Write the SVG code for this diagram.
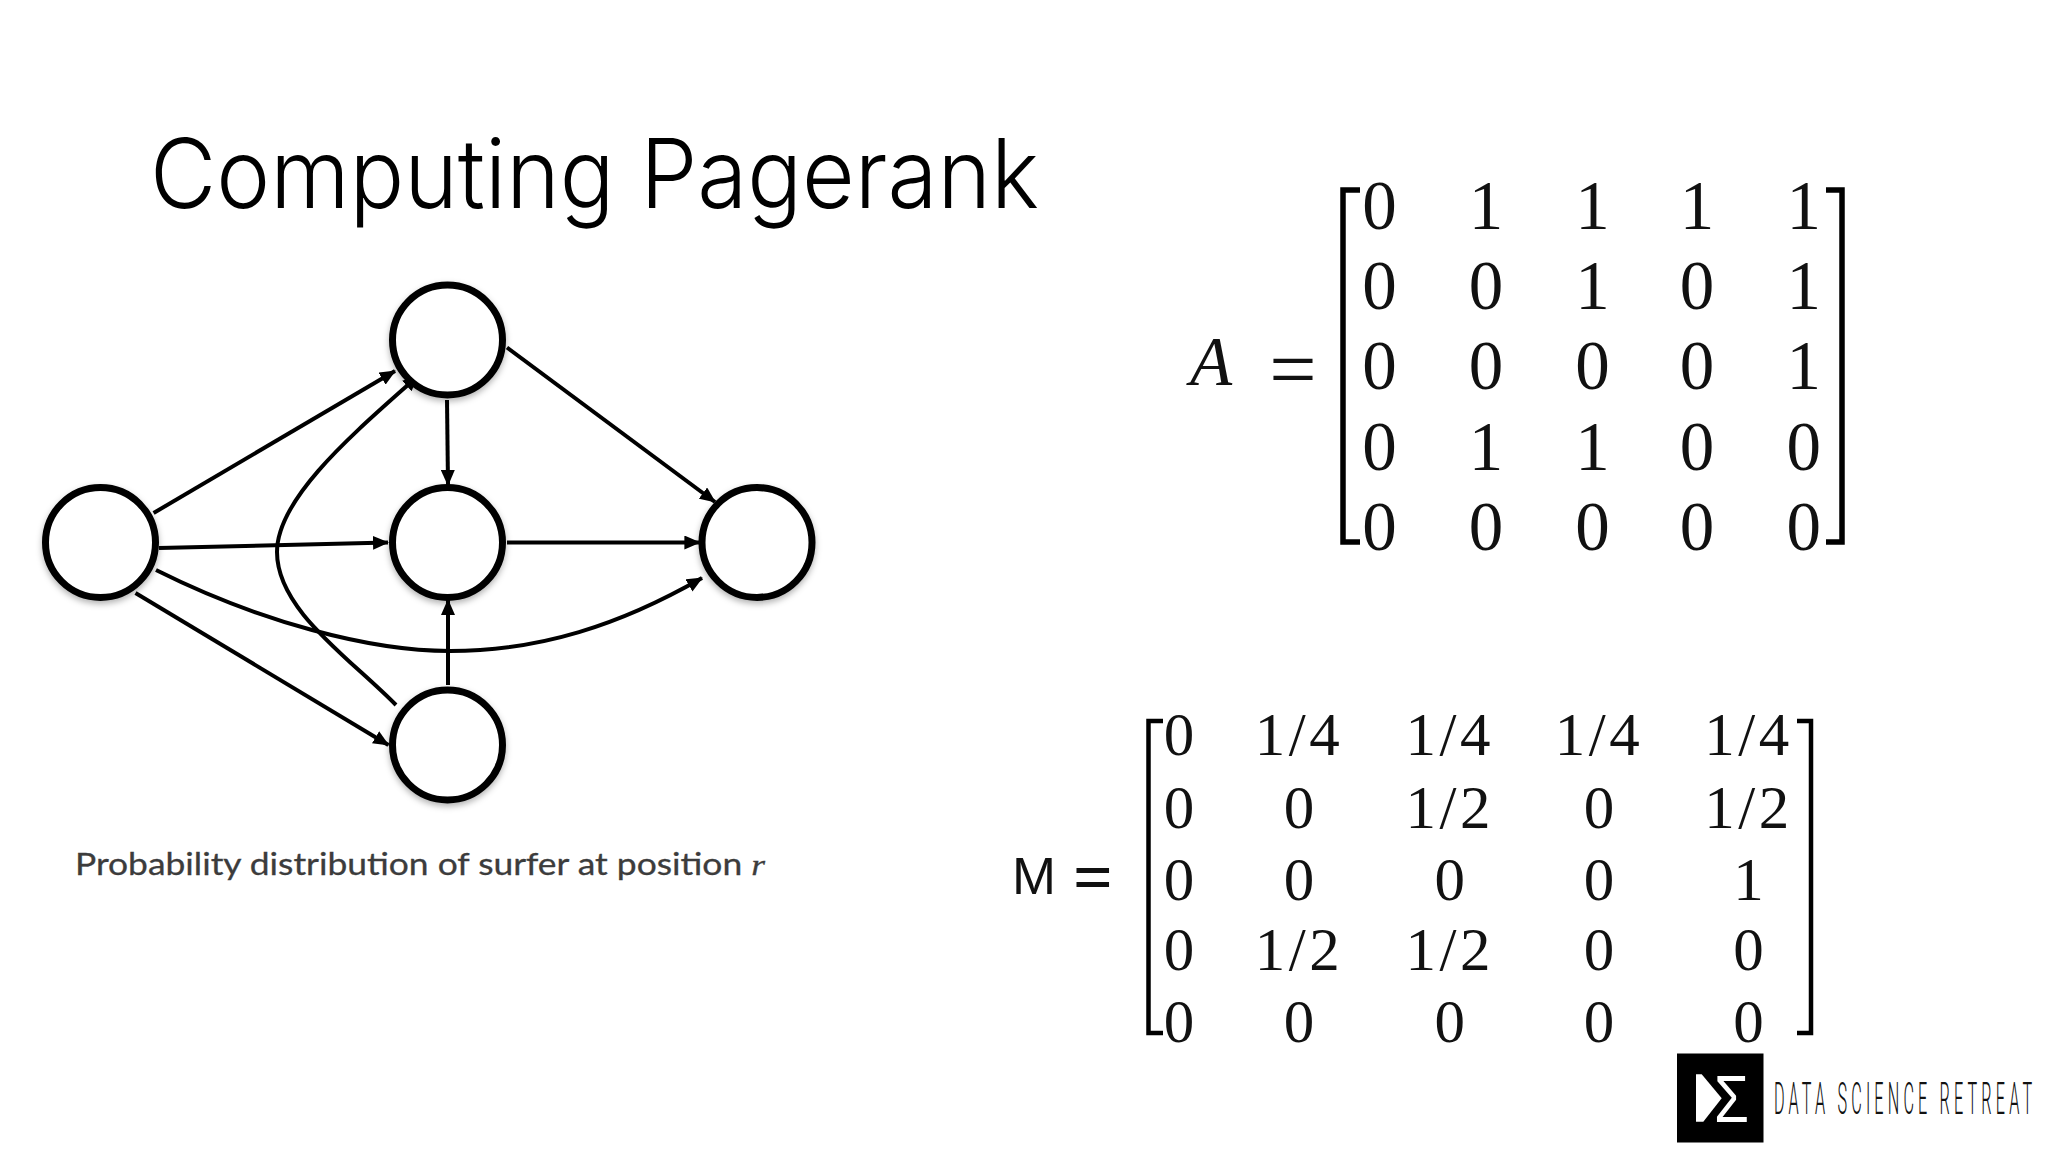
<svg xmlns="http://www.w3.org/2000/svg" width="2048" height="1152" viewBox="0 0 2048 1152">
<style>
.title{font-family:"Inter","Liberation Sans",sans-serif;font-weight:300;font-size:96px;fill:#000}
.cap{font-family:"Lato","Liberation Sans",sans-serif;font-size:30px;fill:#3c3c3c;stroke:#3c3c3c;stroke-width:.3}
.a{font-family:"Liberation Serif",serif;font-size:69px;fill:#111;text-anchor:middle}
.m{font-family:"Liberation Serif",serif;font-size:61px;fill:#111;text-anchor:middle}
.f{letter-spacing:3.5px}
.n{fill:#fff;stroke:#000;stroke-width:7;filter:url(#sh)}
.e{fill:none;stroke:#000;stroke-width:4;marker-end:url(#ah)}
.br{fill:none;stroke:#000;stroke-width:5.5}
.br2{fill:none;stroke:#000;stroke-width:4.5}
</style>
<defs>
<filter id="sh" x="-30%" y="-30%" width="160%" height="160%"><feDropShadow dx="0" dy="3" stdDeviation="3" flood-color="#000" flood-opacity=".3"/></filter>
<marker id="ah" markerUnits="userSpaceOnUse" viewBox="0 0 16 14" markerWidth="16" markerHeight="14" refX="15" refY="7" orient="auto"><path d="M0 0L16 7L0 14Z" fill="#000"/></marker>
</defs>
<rect width="2048" height="1152" fill="#fff"/>
<text class="title" x="150" y="208" textLength="889" lengthAdjust="spacingAndGlyphs">Computing Pagerank</text>
<g id="connectors">
<path class="e" d="M153.6 513L395 371"/>
<path class="e" d="M159 548L388 542.5"/>
<path class="e" d="M135.5 593L388.4 745"/>
<path class="e" d="M156 570C260 622 370 651 450 651C540 651 620 625 702 578"/>
<path class="e" d="M507 347.5L715 502"/>
<path class="e" d="M447 400L448 485"/>
<path class="e" d="M507 542.5L699.4 542.5"/>
<path class="e" d="M448 685L448 600"/>
<path class="e" d="M396 705C350 658 277 610 277 552C277 496 360 428 418 376"/>
</g>
<g id="node-left"><circle class="n" cx="100.5" cy="542.5" r="55"/></g>
<g id="node-top"><circle class="n" cx="447.5" cy="340" r="55"/></g>
<g id="node-mid"><circle class="n" cx="447.5" cy="542.5" r="55"/></g>
<g id="node-right"><circle class="n" cx="757" cy="542.5" r="55"/></g>
<g id="node-bottom"><circle class="n" cx="447.5" cy="745" r="55"/></g>
<text class="cap" x="75" y="875" textLength="690" lengthAdjust="spacingAndGlyphs">Probability distribution of surfer at position <tspan font-family="Liberation Serif" font-style="italic">r</tspan></text>
<g id="matrix-a">
<text class="a" x="1211" y="385" font-style="italic">A</text>
<text class="a" x="1293" y="398" style="font-size:84px">=</text>
<path class="br" d="M1360 190H1343V542H1360"/>
<path class="br" d="M1826 190H1842V542H1826"/>
<text class="a" y="229"><tspan x="1379.5">0</tspan><tspan x="1486">1</tspan><tspan x="1592.5">1</tspan><tspan x="1697">1</tspan><tspan x="1803.7">1</tspan></text>
<text class="a" y="309"><tspan x="1379.5">0</tspan><tspan x="1486">0</tspan><tspan x="1592.5">1</tspan><tspan x="1697">0</tspan><tspan x="1803.7">1</tspan></text>
<text class="a" y="389"><tspan x="1379.5">0</tspan><tspan x="1486">0</tspan><tspan x="1592.5">0</tspan><tspan x="1697">0</tspan><tspan x="1803.7">1</tspan></text>
<text class="a" y="470"><tspan x="1379.5">0</tspan><tspan x="1486">1</tspan><tspan x="1592.5">1</tspan><tspan x="1697">0</tspan><tspan x="1803.7">0</tspan></text>
<text class="a" y="550"><tspan x="1379.5">0</tspan><tspan x="1486">0</tspan><tspan x="1592.5">0</tspan><tspan x="1697">0</tspan><tspan x="1803.7">0</tspan></text>
</g>
<g id="matrix-m">
<text x="1012" y="894" font-family="Liberation Sans" font-size="52" fill="#111" textLength="44" lengthAdjust="spacingAndGlyphs">M</text>
<text class="m" x="1093" y="901" style="font-size:70px;font-weight:bold">=</text>
<path class="br2" d="M1163 721H1148.5V1033H1163"/>
<path class="br2" d="M1797 721H1811V1033H1797"/>
<text class="m" y="755"><tspan x="1179">0</tspan><tspan x="1299" class="f">1/4</tspan><tspan x="1449.7" class="f">1/4</tspan><tspan x="1599" class="f">1/4</tspan><tspan x="1748.6" class="f">1/4</tspan></text>
<text class="m" y="828"><tspan x="1179">0</tspan><tspan x="1299">0</tspan><tspan x="1449.7" class="f">1/2</tspan><tspan x="1599">0</tspan><tspan x="1748.6" class="f">1/2</tspan></text>
<text class="m" y="900"><tspan x="1179">0</tspan><tspan x="1299">0</tspan><tspan x="1449.7">0</tspan><tspan x="1599">0</tspan><tspan x="1748.6">1</tspan></text>
<text class="m" y="970"><tspan x="1179">0</tspan><tspan x="1299" class="f">1/2</tspan><tspan x="1449.7" class="f">1/2</tspan><tspan x="1599">0</tspan><tspan x="1748.6">0</tspan></text>
<text class="m" y="1041.7"><tspan x="1179">0</tspan><tspan x="1299">0</tspan><tspan x="1449.7">0</tspan><tspan x="1599">0</tspan><tspan x="1748.6">0</tspan></text>
</g>
<g id="logo">
<rect x="1677" y="1053.5" width="86.5" height="89" fill="#000"/>
<path d="M1696 1074.3H1701.7L1721.7 1098.3L1703.3 1121.7H1696Z" fill="#fff"/>
<text x="1714" y="1122" font-family="Liberation Sans" font-size="66" fill="#fff" textLength="35" lengthAdjust="spacingAndGlyphs">Σ</text>
<text transform="translate(1774 1114) scale(.36 1)" font-family="Roboto" font-weight="300" font-size="45" fill="#111" textLength="717" lengthAdjust="spacing">DATA SCIENCE RETREAT</text>
</g>
</svg>
